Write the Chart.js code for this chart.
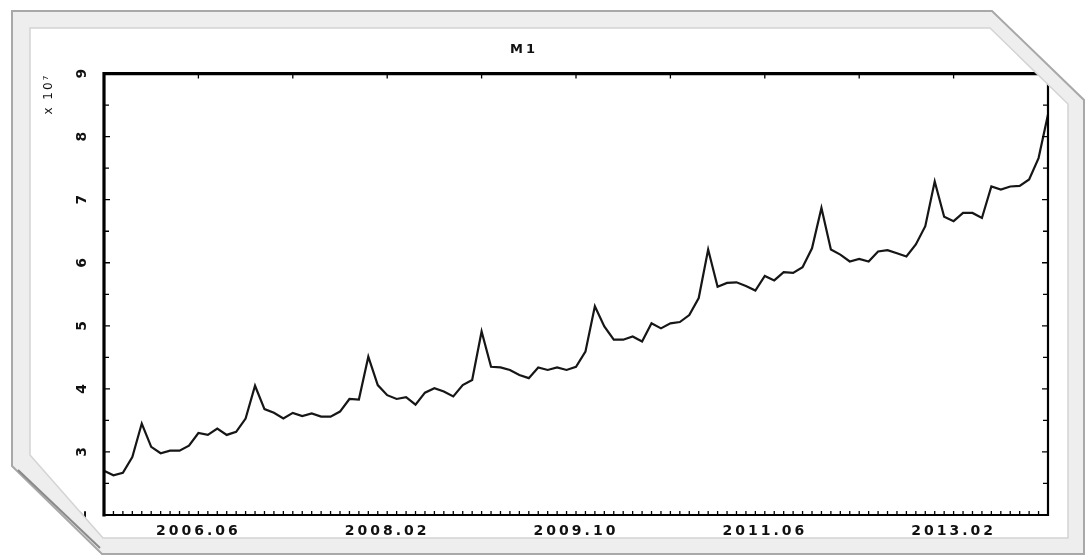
<!DOCTYPE html>
<html>
<head>
<meta charset="utf-8">
<script src="https://cdn.jsdelivr.net/npm/chart.js@4.4.1/dist/chart.umd.min.js"></script>
<style>
  html, body { margin: 0; padding: 0; background: #fff; }
  #wrap { position: relative; width: 1088px; height: 558px; overflow: hidden; }
  #wrap canvas { position: absolute; left: 0; top: 0; }
  #frame { position: absolute; left: 0; top: 0; pointer-events: none; }
</style>
</head>
<body>
<div id="wrap">
  <canvas id="chart" width="1088" height="558"></canvas>
  <svg id="frame" width="1088" height="558" viewBox="0 0 1088 558">
    <!-- white surround outside the snipped-corner frame -->
    <path fill="#ffffff" fill-rule="evenodd"
      d="M0,0 H1088 V558 H0 Z M12,11 L992,11 L1084,100 L1084,554 L102,554 L12,466 Z"/>
    <!-- light grey band between the outer edge and the picture -->
    <path fill="#eeeeee" fill-rule="evenodd"
      d="M12,11 L992,11 L1084,100 L1084,554 L102,554 L12,466 Z M30,28 L990,28 L1068,104 L1068,538 L103,538 L30,455 Z"/>
    <polygon points="12,11 992,11 1084,100 1084,554 102,554 12,466"
      fill="none" stroke="#a8a8a8" stroke-width="2"/>
    <polygon points="30,28 990,28 1068,104 1068,538 103,538 30,455"
      fill="none" stroke="#d4d4d4" stroke-width="1.5"/>
    <line x1="18" y1="470" x2="100" y2="548" stroke="#8a8a8a" stroke-width="2"/>
  </svg>
</div>
<script>
// Monthly series, first month 2005.08
const startYear = 2005;
const startMonth = 8;
const m1Values = [
  2.70, 2.63, 2.67, 2.92, 3.45, 3.08, 2.98, 3.02, 3.02, 3.10,
  3.30, 3.27, 3.37, 3.27, 3.32, 3.53, 4.05, 3.68, 3.62, 3.53,
  3.62, 3.57, 3.61, 3.56, 3.56, 3.64, 3.84, 3.83, 4.51, 4.06,
  3.90, 3.84, 3.87, 3.75, 3.94, 4.01, 3.96, 3.88, 4.06, 4.14,
  4.91, 4.35, 4.34, 4.30, 4.22, 4.17, 4.34, 4.30, 4.34, 4.30,
  4.35, 4.59, 5.31, 4.99, 4.78, 4.78, 4.83, 4.75, 5.04, 4.96,
  5.04, 5.06, 5.17, 5.44, 6.21, 5.62, 5.68, 5.69, 5.63, 5.56,
  5.79, 5.72, 5.85, 5.84, 5.93, 6.23, 6.87, 6.21, 6.13, 6.02,
  6.06, 6.02, 6.18, 6.20, 6.15, 6.10, 6.29, 6.58, 7.29, 6.73,
  6.66, 6.79, 6.79, 6.71, 7.21, 7.16, 7.21, 7.22, 7.32, 7.66,
  8.35
];
const xTickLabels = ['2006.06', '2008.02', '2009.10', '2011.06', '2013.02'];
const yTickValues = [2, 3, 4, 5, 6, 7, 8, 9];
const chartTitle = 'M1';
const yAxisTitle = 'x 10\u2077';

const months = m1Values.map((_, i) => {
  const t = startMonth - 1 + i;
  return (startYear + Math.floor(t / 12)) + '.' + String(t % 12 + 1).padStart(2, '0');
});

const yMin = yTickValues[0];
const yMax = yTickValues[yTickValues.length - 1];
const tickFont = { family: 'DejaVu Sans', size: 14, weight: 'bold' };

// Spaced-out lettering for the chart text
const letterSpacing = {
  id: 'letterSpacing',
  beforeDraw(chart) { chart.ctx.letterSpacing = '3px'; },
  afterDraw(chart) { chart.ctx.letterSpacing = '0px'; }
};

// Box border, inward-pointing tick marks and the sideways y labels
const boxAxes = {
  id: 'boxAxes',
  afterDatasetsDraw(chart) {
    const { ctx, chartArea: a, scales: { x, y } } = chart;
    ctx.save();
    ctx.letterSpacing = '0px';
    ctx.strokeStyle = '#000';
    ctx.lineWidth = 1.3;
    ctx.beginPath();
    months.forEach((m, i) => {
      const px = x.getPixelForValue(i);
      ctx.moveTo(px, a.bottom);
      ctx.lineTo(px, a.bottom - 4);
      if (i % 10 === 0) {
        ctx.moveTo(px, a.top);
        ctx.lineTo(px, a.top + 5);
      }
    });
    for (let v = yMin; v <= yMax; v += 0.5) {
      const py = y.getPixelForValue(v);
      const len = Number.isInteger(v) ? 6 : 5;
      ctx.moveTo(a.left, py);
      ctx.lineTo(a.left + len, py);
      ctx.moveTo(a.right, py);
      ctx.lineTo(a.right - len, py);
    }
    ctx.stroke();

    ctx.lineCap = 'square';
    ctx.beginPath();
    ctx.lineWidth = 3.2;
    ctx.moveTo(a.left, a.bottom);
    ctx.lineTo(a.left, a.top);
    ctx.lineTo(a.right, a.top);
    ctx.stroke();
    ctx.beginPath();
    ctx.lineWidth = 2.2;
    ctx.moveTo(a.right, a.top);
    ctx.lineTo(a.right, a.bottom);
    ctx.lineTo(a.left, a.bottom);
    ctx.stroke();

    // y tick labels, turned to read upwards
    ctx.fillStyle = '#111';
    ctx.textAlign = 'center';
    ctx.textBaseline = 'middle';
    ctx.font = `${tickFont.weight} ${tickFont.size}px "${tickFont.family}"`;
    yTickValues.forEach(v => {
      const py = y.getPixelForValue(v);
      ctx.save();
      ctx.translate(a.left - 22, py);
      ctx.rotate(-Math.PI / 2);
      ctx.fillText(String(v), 0, 0);
      ctx.restore();
    });

    // exponent note at the top of the y axis
    ctx.font = '12px "DejaVu Sans"';
    ctx.letterSpacing = '2px';
    ctx.textAlign = 'right';
    ctx.save();
    ctx.translate(a.left - 55, a.top);
    ctx.rotate(-Math.PI / 2);
    ctx.fillText(yAxisTitle, 0, 0);
    ctx.restore();
    ctx.restore();
  }
};

new Chart(document.getElementById('chart'), {
  type: 'line',
  data: {
    labels: months,
    datasets: [{
      data: m1Values,
      borderColor: '#161616',
      borderWidth: 2.2,
      pointRadius: 0,
      tension: 0,
      fill: false
    }]
  },
  options: {
    responsive: false,
    animation: false,
    events: [],
    layout: { padding: { left: 0, right: 40, top: 0, bottom: 0 } },
    plugins: {
      legend: { display: false },
      tooltip: { enabled: false },
      title: {
        display: true,
        text: chartTitle,
        color: '#111',
        font: { family: 'DejaVu Sans', size: 13, weight: 'bold' },
        padding: { top: 42, bottom: 16 }
      }
    },
    scales: {
      x: {
        type: 'category',
        offset: false,
        grid: { display: false, drawTicks: false },
        border: { display: false },
        ticks: {
          autoSkip: false,
          maxRotation: 0,
          minRotation: 0,
          padding: 8,
          color: '#111',
          font: tickFont,
          callback: (value, index) => xTickLabels.includes(months[index]) ? months[index] : ''
        },
        afterFit: (scale) => { scale.height = 43; }
      },
      y: {
        min: yMin,
        max: yMax,
        grid: { display: false, drawTicks: false },
        border: { display: false },
        ticks: { display: false, stepSize: 1 },
        afterFit: (scale) => { scale.width = 104; }
      }
    }
  },
  plugins: [letterSpacing, boxAxes]
});
</script>
</body>
</html>
